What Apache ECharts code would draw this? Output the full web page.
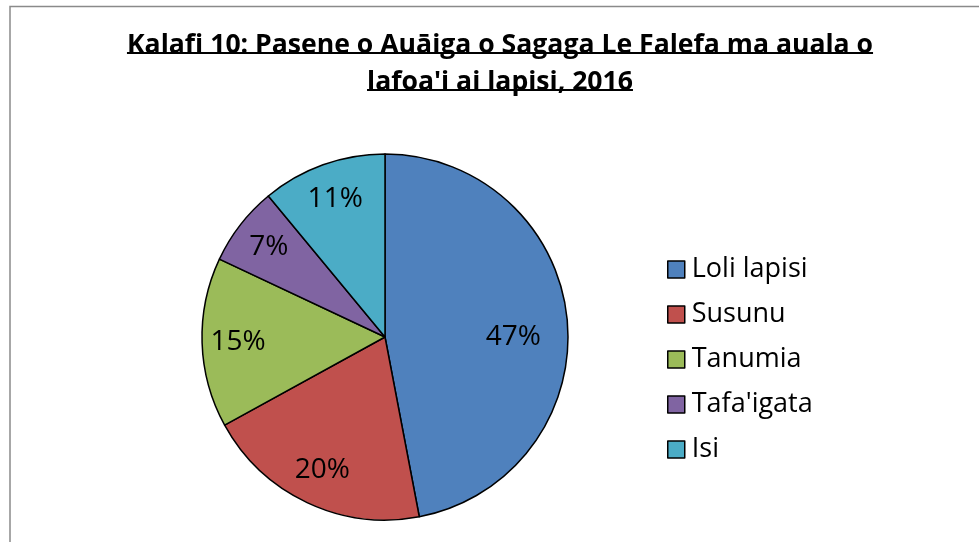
<!DOCTYPE html>
<html>
<head>
<meta charset="utf-8">
<script src="https://cdn.jsdelivr.net/npm/echarts@6/dist/echarts.min.js"></script>
<style>
  html, body { margin: 0; padding: 0; background: #fff; }
  #chart { width: 979px; height: 542px; }
</style>
</head>
<body>
<div id="chart"></div>
<script>
const titleLines = ['Kalafi 10: Pasene o Auāiga o Sagaga Le Falefa ma auala o', "lafoa'i ai lapisi, 2016"]
const categories = ['Loli lapisi', 'Susunu', 'Tanumia', "Tafa'igata", 'Isi']
const shares = [47, 20, 15, 7, 11]
const colors = ['#4f81bd', '#c0504d', '#9bbb59', '#8064a2', '#4bacc6']

const titleFont = 'bold 26.6px "Open Sans", sans-serif'
const labelFont = '"Open Sans", "Noto Sans", sans-serif'

// measure title lines so the underline fits the text
function textWidth(str, font) {
  const ctx = document.createElement('canvas').getContext('2d')
  ctx.font = font
  return ctx.measureText(str).width
}

const chart = echarts.init(document.getElementById('chart'))
const cx = 385, cy = 337, r = 183
const underY = [53, 90]

const graphics = [{
  type: 'rect',
  shape: { x: 10, y: 6.5, width: 1000, height: 600 },
  style: { fill: 'none', stroke: '#8a8a8a', lineWidth: 1.5 },
  silent: true
}]
titleLines.forEach((t, i) => {
  const w = textWidth(t, titleFont)
  graphics.push({
    type: 'text',
    x: 500, y: underY[i] + 6,
    style: { text: t, font: titleFont, fill: '#000', align: 'center', verticalAlign: 'bottom' }
  })
  graphics.push({
    type: 'line',
    shape: { x1: 500 - w / 2, y1: underY[i], x2: 500 + w / 2, y2: underY[i] },
    style: { stroke: '#000', lineWidth: 2 }
  })
})

const pieData = categories.map((name, i) => ({
  name: name,
  value: shares[i],
  itemStyle: { color: colors[i] }
}))

chart.setOption({
  animation: false,
  graphic: graphics,
  legend: {
    orient: 'vertical',
    left: 662,
    top: 251,
    itemGap: 18,
    itemWidth: 17,
    itemHeight: 17,
    icon: 'rect',
    itemStyle: { borderColor: '#000', borderWidth: 1.5 },
    textStyle: { fontFamily: labelFont, fontSize: 27, color: '#000', padding: [0, 0, 0, 2] },
    data: categories
  },
  series: [
    {
      type: 'pie',
      center: [cx, cy],
      radius: [0, r],
      startAngle: 90,
      clockwise: true,
      silent: true,
      label: { show: false },
      labelLine: { show: false },
      itemStyle: { borderColor: '#000', borderWidth: 1.5 },
      data: pieData
    },
    {
      // label-only ring so the percentages sit near the rim as in the original
      type: 'pie',
      center: [cx, cy],
      radius: [105, r],
      startAngle: 90,
      clockwise: true,
      silent: true,
      itemStyle: { color: 'rgba(0,0,0,0)', borderWidth: 0 },
      label: {
        show: true,
        position: 'inside',
        formatter: '{c}%',
        fontFamily: labelFont,
        fontSize: 28,
        color: '#000'
      },
      labelLine: { show: false },
      data: categories.map((name, i) => ({
        name: name,
        value: shares[i],
        label: i === 0 ? { offset: [-18, 14] } : {}
      }))
    }
  ]
})
</script>
</body>
</html>
